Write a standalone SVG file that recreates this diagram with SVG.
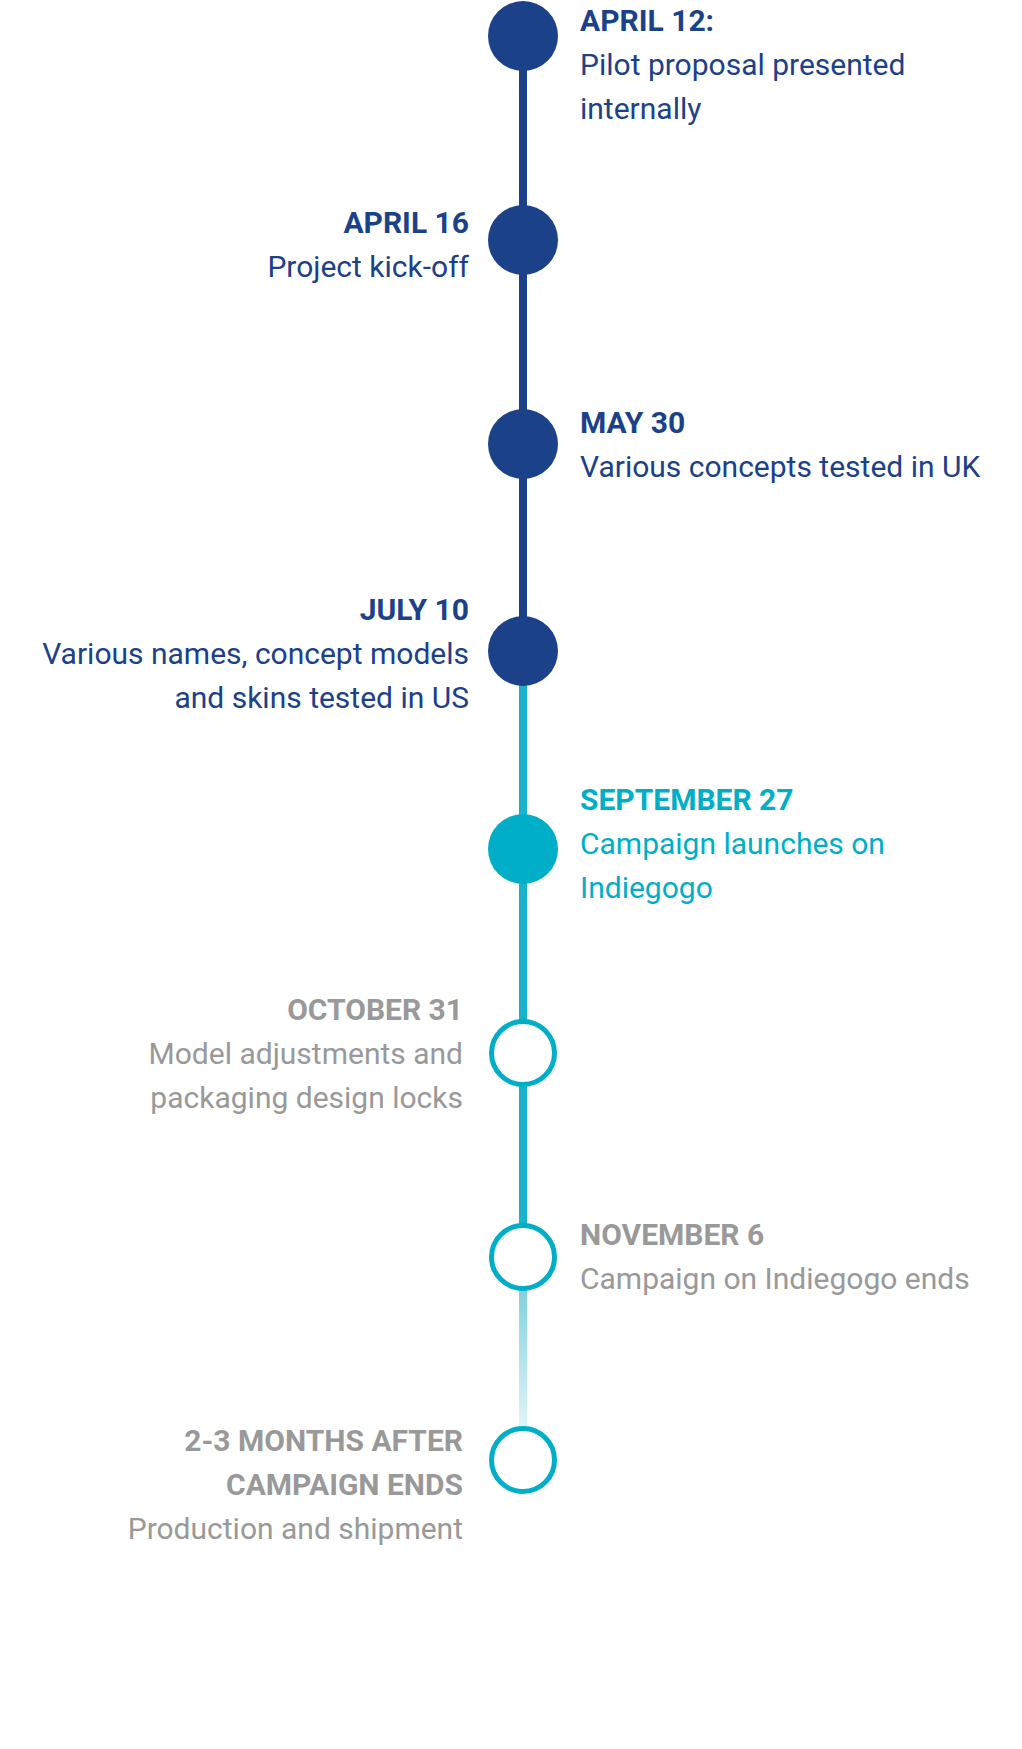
<svg xmlns="http://www.w3.org/2000/svg" width="1022" height="1749" viewBox="0 0 1022 1749">
<style>
text{font-family:Roboto,"Liberation Sans",sans-serif;font-size:30px}
.t{font-weight:bold}
.b{fill:#1b4189}.c{fill:#00aec7}.g{fill:#999999}
.r{text-anchor:end}
.open{fill:#fff;stroke:#00aec7;stroke-width:5}
</style>
<defs>
<linearGradient id="fade" x1="0" y1="1258" x2="0" y2="1430" gradientUnits="userSpaceOnUse">
<stop offset="0" stop-color="#6cc9d8"/><stop offset="1" stop-color="#e4f5f8"/>
</linearGradient>
</defs>
<g id="connectors">
<rect x="519" y="36" width="8" height="615" fill="#1b4189"/>
<rect x="519" y="651" width="8" height="607" fill="#1ab3cb"/>
<rect x="519" y="1258" width="8" height="202" fill="url(#fade)"/>
</g>
<g id="n1"><circle cx="523" cy="36" r="35" fill="#1b4189"/>
<text x="580" y="31" class="t b">APRIL 12:</text><text x="580" y="75" class="b">Pilot proposal presented</text><text x="580" y="119" class="b">internally</text></g>
<g id="n2"><circle cx="523" cy="240" r="35" fill="#1b4189"/>
<text x="469" y="233" class="t b r">APRIL 16</text><text x="469" y="277" class="b r">Project kick-off</text></g>
<g id="n3"><circle cx="523" cy="444" r="35" fill="#1b4189"/>
<text x="580" y="433" class="t b">MAY 30</text><text x="580" y="477" class="b">Various concepts tested in UK</text></g>
<g id="n4"><circle cx="523" cy="651" r="35" fill="#1b4189"/>
<text x="469" y="620" class="t b r">JULY 10</text><text x="469" y="664" class="b r">Various names, concept models</text><text x="469" y="708" class="b r">and skins tested in US</text></g>
<g id="n5"><circle cx="523" cy="849" r="35" fill="#00aec7"/>
<text x="580" y="810" class="t c">SEPTEMBER 27</text><text x="580" y="854" class="c">Campaign launches on</text><text x="580" y="898" class="c">Indiegogo</text></g>
<g id="n6"><circle cx="523" cy="1053" r="31.5" class="open"/>
<text x="463" y="1020" class="t g r">OCTOBER 31</text><text x="463" y="1064" class="g r">Model adjustments and</text><text x="463" y="1108" class="g r">packaging design locks</text></g>
<g id="n7"><circle cx="523" cy="1257" r="31.5" class="open"/>
<text x="580" y="1245" class="t g">NOVEMBER 6</text><text x="580" y="1289" class="g">Campaign on Indiegogo ends</text></g>
<g id="n8"><circle cx="523" cy="1460" r="31.5" class="open"/>
<text x="463" y="1451" class="t g r">2-3 MONTHS AFTER</text><text x="463" y="1495" class="t g r">CAMPAIGN ENDS</text><text x="463" y="1539" class="g r">Production and shipment</text></g>
</svg>
